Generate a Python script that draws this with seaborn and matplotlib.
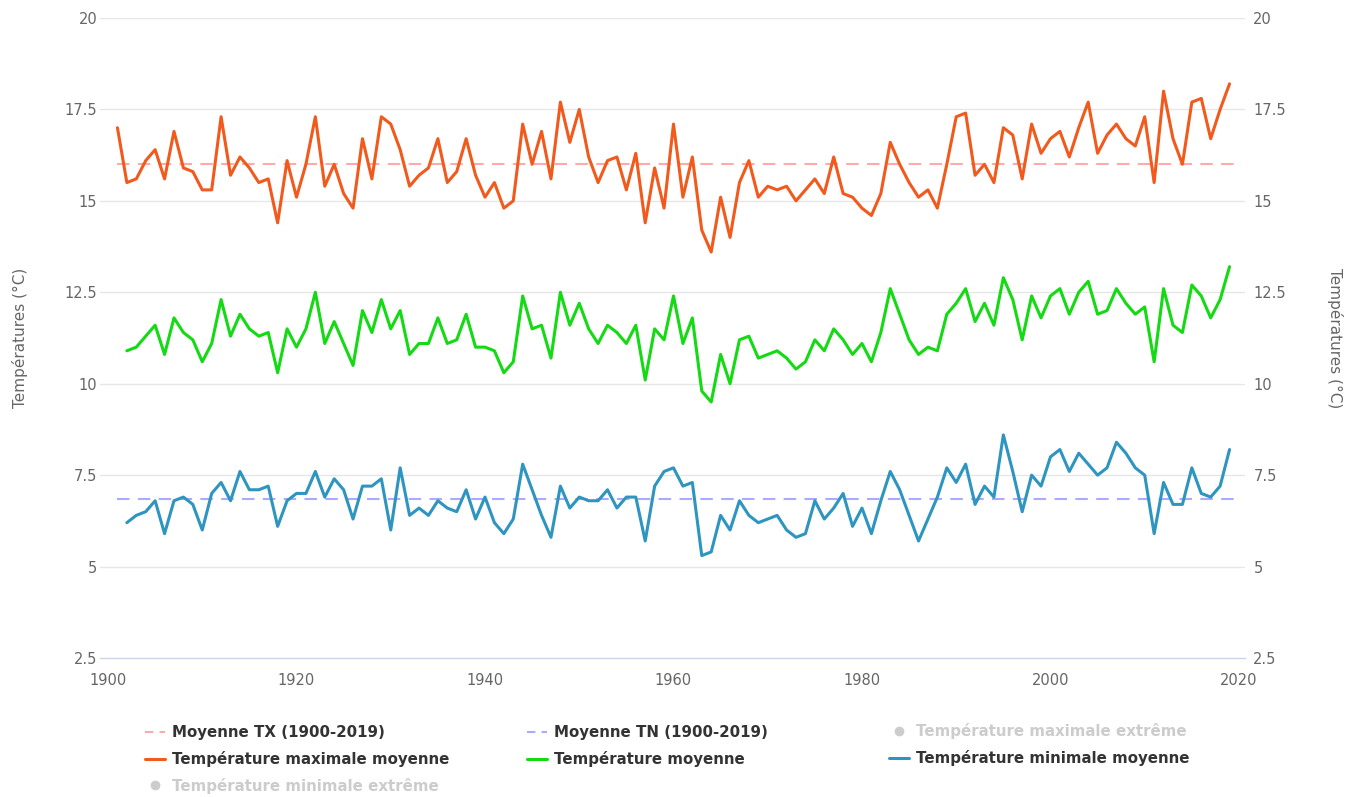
import matplotlib
matplotlib.use('Agg')
import matplotlib.pyplot as plt
from matplotlib.lines import Line2D
from matplotlib.ticker import FuncFormatter
import numpy as np
import pandas as pd
import seaborn as sns

# Annual values
years_tx = np.arange(1901, 2020)
tx_moy = [
    17.0, 15.5, 15.6, 16.1, 16.4, 15.6, 16.9, 15.9, 15.8, 15.3,
    15.3, 17.3, 15.7, 16.2, 15.9, 15.5, 15.6, 14.4, 16.1, 15.1,
    16.0, 17.3, 15.4, 16.0, 15.2, 14.8, 16.7, 15.6, 17.3, 17.1,
    16.4, 15.4, 15.7, 15.9, 16.7, 15.5, 15.8, 16.7, 15.7, 15.1,
    15.5, 14.8, 15.0, 17.1, 16.0, 16.9, 15.6, 17.7, 16.6, 17.5,
    16.2, 15.5, 16.1, 16.2, 15.3, 16.3, 14.4, 15.9, 14.8, 17.1,
    15.1, 16.2, 14.2, 13.6, 15.1, 14.0, 15.5, 16.1, 15.1, 15.4,
    15.3, 15.4, 15.0, 15.3, 15.6, 15.2, 16.2, 15.2, 15.1, 14.8,
    14.6, 15.2, 16.6, 16.0, 15.5, 15.1, 15.3, 14.8, 16.0, 17.3,
    17.4, 15.7, 16.0, 15.5, 17.0, 16.8, 15.6, 17.1, 16.3, 16.7,
    16.9, 16.2, 17.0, 17.7, 16.3, 16.8, 17.1, 16.7, 16.5, 17.3,
    15.5, 18.0, 16.7, 16.0, 17.7, 17.8, 16.7, 17.5, 18.2,
]

years_tm = np.arange(1902, 2020)
t_moy = [
    10.9, 11.0, 11.3, 11.6, 10.8, 11.8, 11.4, 11.2, 10.6,
    11.1, 12.3, 11.3, 11.9, 11.5, 11.3, 11.4, 10.3, 11.5, 11.0,
    11.5, 12.5, 11.1, 11.7, 11.1, 10.5, 12.0, 11.4, 12.3, 11.5,
    12.0, 10.8, 11.1, 11.1, 11.8, 11.1, 11.2, 11.9, 11.0, 11.0,
    10.9, 10.3, 10.6, 12.4, 11.5, 11.6, 10.7, 12.5, 11.6, 12.2,
    11.5, 11.1, 11.6, 11.4, 11.1, 11.6, 10.1, 11.5, 11.2, 12.4,
    11.1, 11.8, 9.8, 9.5, 10.8, 10.0, 11.2, 11.3, 10.7, 10.8,
    10.9, 10.7, 10.4, 10.6, 11.2, 10.9, 11.5, 11.2, 10.8, 11.1,
    10.6, 11.4, 12.6, 11.9, 11.2, 10.8, 11.0, 10.9, 11.9, 12.2,
    12.6, 11.7, 12.2, 11.6, 12.9, 12.3, 11.2, 12.4, 11.8, 12.4,
    12.6, 11.9, 12.5, 12.8, 11.9, 12.0, 12.6, 12.2, 11.9, 12.1,
    10.6, 12.6, 11.6, 11.4, 12.7, 12.4, 11.8, 12.3, 13.2,
]

years_tn = np.arange(1902, 2020)
tn_moy = [
    6.2, 6.4, 6.5, 6.8, 5.9, 6.8, 6.9, 6.7, 6.0,
    7.0, 7.3, 6.8, 7.6, 7.1, 7.1, 7.2, 6.1, 6.8, 7.0,
    7.0, 7.6, 6.9, 7.4, 7.1, 6.3, 7.2, 7.2, 7.4, 6.0,
    7.7, 6.4, 6.6, 6.4, 6.8, 6.6, 6.5, 7.1, 6.3, 6.9,
    6.2, 5.9, 6.3, 7.8, 7.1, 6.4, 5.8, 7.2, 6.6, 6.9,
    6.8, 6.8, 7.1, 6.6, 6.9, 6.9, 5.7, 7.2, 7.6, 7.7,
    7.2, 7.3, 5.3, 5.4, 6.4, 6.0, 6.8, 6.4, 6.2, 6.3,
    6.4, 6.0, 5.8, 5.9, 6.8, 6.3, 6.6, 7.0, 6.1, 6.6,
    5.9, 6.8, 7.6, 7.1, 6.4, 5.7, 6.3, 6.9, 7.7, 7.3,
    7.8, 6.7, 7.2, 6.9, 8.6, 7.6, 6.5, 7.5, 7.2, 8.0,
    8.2, 7.6, 8.1, 7.8, 7.5, 7.7, 8.4, 8.1, 7.7, 7.5,
    5.9, 7.3, 6.7, 6.7, 7.7, 7.0, 6.9, 7.2, 8.2,
]

mean_tx = 16.0
mean_tn = 6.85
mean_span = [1901, 2020]

y_ticks = [2.5, 5, 7.5, 10, 12.5, 15, 17.5, 20]
x_ticks = [1900, 1920, 1940, 1960, 1980, 2000, 2020]

ORANGE = '#F25A1D'
GREEN = '#14DA14'
BLUE = '#2E95C0'
PINK = '#FFAAAA'
LAVENDER = '#AAAAFF'
GREY_TXT = '#666666'
HIDDEN = '#CCCCCC'

sns.set_theme(style='white')
plt.rcParams['font.family'] = ['DejaVu Sans']

fig = plt.figure(figsize=(13.47, 7.97), dpi=100)
ax = fig.add_axes([100 / 1347, 1 - 658 / 797, 1145 / 1347, 640 / 797])

df_tx = pd.DataFrame({'annee': years_tx, 'valeur': tx_moy})
df_tm = pd.DataFrame({'annee': years_tm, 'valeur': t_moy})
df_tn = pd.DataFrame({'annee': years_tn, 'valeur': tn_moy})

# horizontal grid
for yv in y_ticks[1:]:
    ax.axhline(yv, color='#E6E6E6', lw=1, zorder=0)

ax.plot(mean_span, [mean_tx, mean_tx], color=PINK, lw=1.5, dashes=(6, 4), zorder=1)
ax.plot(mean_span, [mean_tn, mean_tn], color=LAVENDER, lw=1.5, dashes=(6, 4), zorder=1)

sns.lineplot(data=df_tx, x='annee', y='valeur', ax=ax, color=ORANGE, lw=2.2, zorder=3)
sns.lineplot(data=df_tm, x='annee', y='valeur', ax=ax, color=GREEN, lw=2.2, zorder=3)
sns.lineplot(data=df_tn, x='annee', y='valeur', ax=ax, color=BLUE, lw=2.2, zorder=3)

ax.set_xlim(1899.15, 2020.64)
ax.set_ylim(2.5, 20)
for s in ['top', 'left', 'right']:
    ax.spines[s].set_visible(False)
ax.spines['bottom'].set_color('#CCD6EB')
ax.spines['bottom'].set_linewidth(1)

fmt = FuncFormatter(lambda v, p: f'{v:g}')
ax.set_yticks(y_ticks)
ax.yaxis.set_major_formatter(fmt)
ax.set_xticks(x_ticks)
ax.tick_params(axis='x', colors='#CCD6EB', length=10, width=1, direction='out',
               labelcolor=GREY_TXT, labelsize=10.5, pad=1)
ax.tick_params(axis='y', length=0, labelcolor=GREY_TXT, labelsize=10.5, pad=2)
ax.set_xlabel('')
ax.set_ylabel('Températures (°C)', color=GREY_TXT, fontsize=11, labelpad=26)

ax2 = ax.twinx()
ax2.set_ylim(2.5, 20)
ax2.set_yticks(y_ticks)
ax2.yaxis.set_major_formatter(fmt)
ax2.tick_params(axis='y', length=0, labelcolor=GREY_TXT, labelsize=10.5, pad=6)
for s in ['top', 'left', 'right', 'bottom']:
    ax2.spines[s].set_visible(False)
ax2.set_ylabel('Températures (°C)', color=GREY_TXT, fontsize=11, rotation=270, labelpad=41)
ax2.grid(False)


def dash_handle(c):
    return Line2D([], [], color=c, lw=1.5, dashes=(4, 3))


def line_handle(c):
    return Line2D([], [], color=c, lw=2.2)


def dot_handle(c):
    return Line2D([], [], color=c, lw=0, marker='o', markersize=6)


# legend laid out row by row, one matplotlib legend per column
columns = [
    ([dash_handle(PINK), line_handle(ORANGE), dot_handle(HIDDEN)],
     ['Moyenne TX (1900-2019)', 'Température maximale moyenne', 'Température minimale extrême'],
     ['#333333', '#333333', HIDDEN], 145, 725),
    ([dash_handle(LAVENDER), line_handle(GREEN)],
     ['Moyenne TN (1900-2019)', 'Température moyenne'],
     ['#333333', '#333333'], 527, 725),
    ([dot_handle(HIDDEN), line_handle(BLUE)],
     ['Température maximale extrême', 'Température minimale moyenne'],
     [HIDDEN, '#333333'], 889, 723),
]

for handles, labels, colors, xpix, ypix in columns:
    leg = fig.legend(handles, labels, loc='upper left',
                     bbox_to_anchor=(xpix / 1347, 1 - ypix / 797),
                     frameon=False, borderpad=0, borderaxespad=0,
                     handlelength=1.35, handletextpad=0.45, labelspacing=0.72,
                     prop={'weight': 'bold', 'size': 10.8})
    for t, c in zip(leg.get_texts(), colors):
        t.set_color(c)

fig.savefig('out.png', dpi=100)
